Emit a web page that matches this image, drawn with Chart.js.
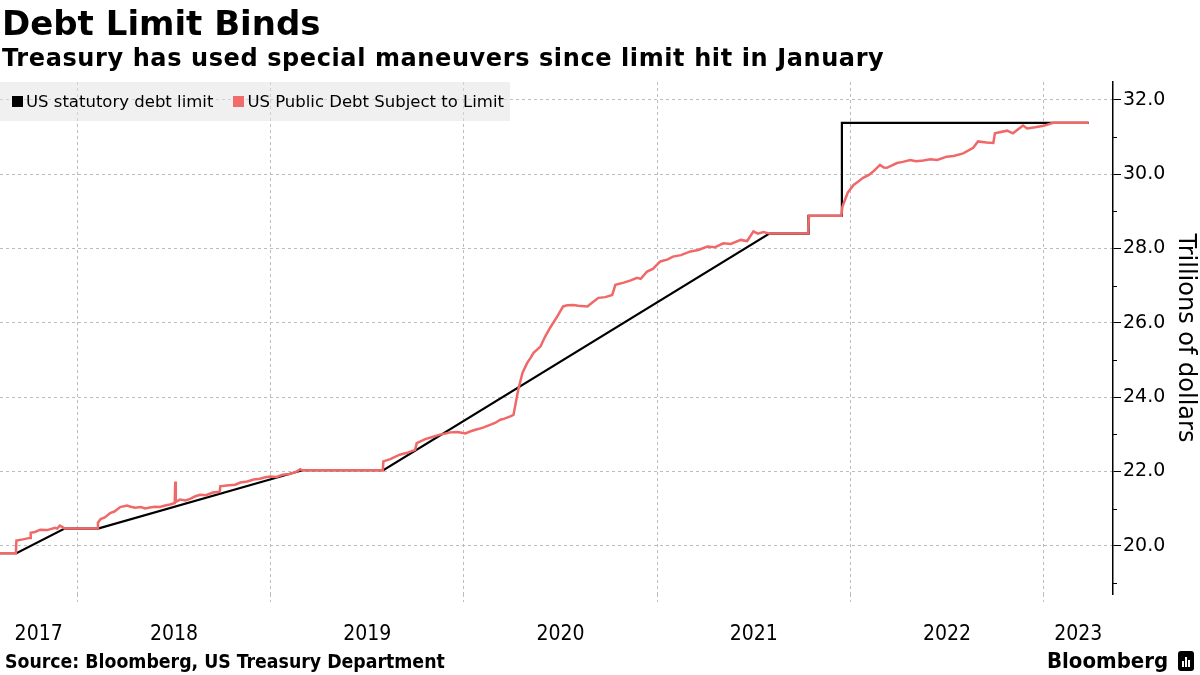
<!DOCTYPE html>
<html>
<head>
<meta charset="utf-8">
<script src="https://cdn.jsdelivr.net/npm/chart.js@4"></script>
<style>
  body { margin: 0; background: #fff; }
  #wrap { position: relative; width: 1200px; height: 675px; overflow: hidden; background: #fff; }
  #chart { position: absolute; left: 0; top: 0; }
  .title { position: absolute; left: 2px; top: 6px; font: bold 34px/34px "DejaVu Sans", sans-serif; color: #000; white-space: nowrap; }
  .subtitle { position: absolute; left: 2px; top: 46px; font: bold 24px/24px "DejaVu Sans", sans-serif; letter-spacing: 0.6px; color: #000; white-space: nowrap; }
  .legend { position: absolute; left: 0; top: 82px; width: 510px; height: 39px; background: rgba(228,228,228,0.55);
            display: flex; align-items: center; font: 16.5px "DejaVu Sans", sans-serif; color: #000; white-space: nowrap; }
  .legend .sw { display: inline-block; width: 11px; height: 11px; margin: 0 3px 0 0; }
  .legend .item { display: flex; align-items: center; margin-left: 12px; margin-right: 8px; }
  .source { position: absolute; left: 5px; top: 651px; font: bold 19.3px/22px "DejaVu Sans Condensed", "DejaVu Sans", sans-serif; color: #000; white-space: nowrap; }
  .logo { position: absolute; left: 1047px; top: 649px; font: bold 22px/24px "DejaVu Sans Condensed", "DejaVu Sans", sans-serif; color: #000; white-space: nowrap; }
  .icon { position: absolute; left: 1178px; top: 651px; width: 16px; height: 20px; background: #000; border-radius: 3px; }
  .icon i { position: absolute; bottom: 4px; width: 2px; background: #fff; }
</style>
</head>
<body>
<div id="wrap">
  <canvas id="chart" width="1200" height="675"></canvas>
  <div class="title">Debt Limit Binds</div>
  <div class="subtitle">Treasury has used special maneuvers since limit hit in January</div>
  <div class="legend">
    <span class="item"><span class="sw" style="background:#000"></span>US statutory debt limit</span>
    <span class="item"><span class="sw" style="background:#f26b6b"></span>US Public Debt Subject to Limit</span>
  </div>
  <div class="source">Source: Bloomberg, US Treasury Department</div>
  <div class="logo">Bloomberg</div>
  <div class="icon"><i style="left:4px;height:6px"></i><i style="left:7px;height:10px"></i><i style="left:10px;height:7px"></i></div>
</div>
<script>
// x range of the chart
var xMinDate = '2017-08-08';
var xMaxDate = '2023-05-12';

var yearLabels = ['2017', '2018', '2019', '2020', '2021', '2022', '2023'];

// US statutory debt limit, trillions
var limitDates = ['2017-08-08', '2017-09-08', '2017-12-08', '2018-02-09', '2019-03-02', '2019-08-02',
                  '2021-08-01', '2021-10-13', '2021-10-14', '2021-12-15', '2021-12-16', '2023-03-27'];
var limitValues = [19.80, 19.80, 20.46, 20.46, 22.03, 22.03,
                   28.40, 28.40, 28.88, 28.88, 31.38, 31.38];

// US public debt subject to limit, trillions
var debtDates = [
  '2017-08-08', '2017-09-07', '2017-09-08', '2017-09-20', '2017-10-04', '2017-10-05', '2017-10-13', '2017-10-23',
  '2017-11-05', '2017-11-20', '2017-11-24', '2017-11-29', '2017-12-04', '2017-12-08', '2018-02-08', '2018-02-09',
  '2018-02-14', '2018-02-22', '2018-03-04', '2018-03-12', '2018-03-23', '2018-04-05', '2018-04-12', '2018-04-20',
  '2018-05-01', '2018-05-09', '2018-05-18', '2018-05-28', '2018-06-06', '2018-06-16', '2018-06-25', '2018-07-04',
  '2018-07-05', '2018-07-06', '2018-07-14', '2018-07-24', '2018-08-02', '2018-08-12', '2018-08-21', '2018-09-01',
  '2018-09-14', '2018-09-27', '2018-09-28', '2018-10-10', '2018-10-26', '2018-11-05', '2018-11-18', '2018-11-30',
  '2018-12-12', '2018-12-22', '2019-01-01', '2019-01-12', '2019-01-24', '2019-02-06', '2019-02-20', '2019-02-26',
  '2019-03-02', '2019-08-01', '2019-08-02', '2019-08-15', '2019-09-02', '2019-09-16', '2019-10-01', '2019-10-04',
  '2019-10-20', '2019-11-01', '2019-11-17', '2019-11-27', '2019-12-06', '2019-12-20', '2020-01-04', '2020-01-14',
  '2020-01-23', '2020-02-05', '2020-02-21', '2020-03-01', '2020-03-10', '2020-03-18', '2020-03-29', '2020-04-04',
  '2020-04-13', '2020-04-21', '2020-04-30', '2020-05-06', '2020-05-12', '2020-05-25', '2020-06-03', '2020-06-13',
  '2020-06-26', '2020-07-07', '2020-07-15', '2020-07-26', '2020-08-05', '2020-08-22', '2020-09-01', '2020-09-12',
  '2020-09-25', '2020-10-08', '2020-10-14', '2020-10-30', '2020-11-12', '2020-11-24', '2020-12-01', '2020-12-13',
  '2020-12-24', '2021-01-07', '2021-01-20', '2021-01-31', '2021-02-15', '2021-03-05', '2021-03-20', '2021-04-06',
  '2021-04-20', '2021-05-06', '2021-05-20', '2021-06-08', '2021-06-20', '2021-07-02', '2021-07-10', '2021-07-21',
  '2021-08-01', '2021-10-13', '2021-10-15', '2021-12-15', '2021-12-17', '2021-12-27', '2022-01-07', '2022-01-16',
  '2022-01-25', '2022-02-05', '2022-02-13', '2022-02-26', '2022-03-05', '2022-03-11', '2022-03-30', '2022-04-10',
  '2022-04-24', '2022-05-05', '2022-05-19', '2022-06-01', '2022-06-14', '2022-07-02', '2022-07-15', '2022-08-02',
  '2022-08-21', '2022-08-30', '2022-09-15', '2022-09-28', '2022-10-01', '2022-10-24', '2022-11-04', '2022-11-23',
  '2022-12-01', '2022-12-16', '2023-01-01', '2023-01-19', '2023-03-27'
];
var debtValues = [
  19.80, 19.80, 20.14, 20.17, 20.21, 20.35, 20.37, 20.43,
  20.42, 20.48, 20.46, 20.54, 20.50, 20.46, 20.46, 20.62,
  20.72, 20.76, 20.88, 20.92, 21.04, 21.08, 21.05, 21.02,
  21.04, 21.00, 21.03, 21.05, 21.04, 21.08, 21.11, 21.15,
  21.73, 21.18, 21.24, 21.22, 21.26, 21.33, 21.37, 21.36,
  21.43, 21.45, 21.60, 21.62, 21.64, 21.70, 21.73, 21.78,
  21.80, 21.84, 21.86, 21.85, 21.91, 21.93, 22.00, 22.06,
  22.03, 22.03, 22.27, 22.33, 22.45, 22.50, 22.58, 22.76,
  22.87, 22.92, 22.99, 23.02, 23.05, 23.06, 23.02, 23.08,
  23.12, 23.17, 23.26, 23.31, 23.39, 23.42, 23.48, 23.52,
  24.20, 24.65, 24.92, 25.05, 25.19, 25.36, 25.63, 25.88,
  26.17, 26.44, 26.47, 26.48, 26.46, 26.44, 26.55, 26.67,
  26.69, 26.75, 27.02, 27.08, 27.14, 27.21, 27.18, 27.38,
  27.45, 27.65, 27.70, 27.78, 27.82, 27.92, 27.96, 28.05,
  28.03, 28.14, 28.12, 28.23, 28.20, 28.46, 28.40, 28.44,
  28.40, 28.40, 28.88, 28.88, 29.13, 29.50, 29.71, 29.80,
  29.90, 29.98, 30.07, 30.25, 30.18, 30.17, 30.30, 30.33,
  30.38, 30.35, 30.37, 30.40, 30.38, 30.47, 30.49, 30.56,
  30.71, 30.88, 30.85, 30.84, 31.10, 31.17, 31.10, 31.31,
  31.23, 31.26, 31.30, 31.38, 31.38
];

function toYear(s) {
  var d = new Date(s + 'T00:00:00Z');
  var y = d.getUTCFullYear();
  var a = Date.UTC(y, 0, 1), b = Date.UTC(y + 1, 0, 1);
  return y + (d.getTime() - a) / (b - a);
}

function points(dates, values) {
  return dates.map(function (d, i) { return { x: toYear(d), y: values[i] }; });
}

var xMin = toYear(xMinDate);
var xMax = toYear(xMaxDate);

// minor ticks on the right axis at odd values
var minorTicks = {
  id: 'minorTicks',
  afterDraw: function (chart) {
    var y = chart.scales.y, ctx = chart.ctx;
    ctx.save();
    ctx.strokeStyle = '#000';
    ctx.lineWidth = 1;
    for (var v = Math.ceil(y.min); v <= y.max; v++) {
      if (v % 2 === 0) continue;
      var py = Math.round(y.getPixelForValue(v)) + 0.5;
      ctx.beginPath();
      ctx.moveTo(y.left, py);
      ctx.lineTo(y.left + 4, py);
      ctx.stroke();
    }
    ctx.restore();
  }
};

var ctx = document.getElementById('chart').getContext('2d');
new Chart(ctx, {
  type: 'line',
  data: {
    datasets: [{
      label: 'US Public Debt Subject to Limit',
      data: points(debtDates, debtValues),
      borderColor: '#f06868',
      borderWidth: 2.5,
      pointRadius: 0,
      tension: 0,
      order: 1
    }, {
      label: 'US statutory debt limit',
      data: points(limitDates, limitValues),
      borderColor: '#000',
      borderWidth: 2.2,
      pointRadius: 0,
      tension: 0,
      order: 2
    }]
  },
  options: {
    responsive: false,
    animation: false,
    layout: { padding: { top: 82, left: 0, right: 0, bottom: 0 } },
    plugins: { legend: { display: false }, tooltip: { enabled: false } },
    scales: {
      x: {
        type: 'linear',
        min: xMin,
        max: xMax,
        border: { display: false, dash: [3, 3] },
        afterBuildTicks: function (scale) {
          var ticks = [];
          for (var yr = Math.ceil(xMin); yr <= Math.floor(xMax); yr++) {
            ticks.push({ value: yr, isLine: true });
          }
          yearLabels.forEach(function (t) {
            var yr = parseInt(t, 10);
            var a = Math.max(yr, xMin), b = Math.min(yr + 1, xMax);
            ticks.push({ value: (a + b) / 2, text: t });
          });
          ticks.sort(function (p, q) { return p.value - q.value; });
          scale.ticks = ticks;
        },
        afterFit: function (scale) {
          scale.height = 81;
          scale.paddingLeft = 0;
          scale.paddingRight = 0;
        },
        grid: {
          color: function (c) { return c.tick && c.tick.isLine ? '#bdbdbd' : 'rgba(0,0,0,0)'; },
          tickColor: function (c) { return c.tick && c.tick.isLine ? '#bdbdbd' : 'rgba(0,0,0,0)'; },
          tickBorderDash: [3, 3],
          lineWidth: 1,
          tickLength: 8
        },
        ticks: {
          autoSkip: false,
          maxRotation: 0,
          padding: 20,
          color: '#000',
          font: { family: '"DejaVu Sans Condensed", sans-serif', size: 21 },
          callback: function (v, i, ticks) { return ticks[i].text || ''; }
        }
      },
      y: {
        position: 'right',
        min: 18.7,
        max: 32.48,
        afterFit: function (scale) { scale.width = 87; },
        border: { display: true, color: '#000', width: 1.5, dash: [3, 3] },
        grid: {
          color: '#bdbdbd',
          tickColor: '#000',
          lineWidth: 1,
          tickLength: 8
        },
        ticks: {
          stepSize: 2,
          includeBounds: false,
          padding: 2,
          color: '#000',
          font: { family: '"DejaVu Sans", sans-serif', size: 19 },
          callback: function (v) { return v.toFixed(1); }
        },
        title: {
          display: true,
          text: 'Trillions of dollars',
          color: '#000',
          padding: { top: 0, bottom: 0 },
          font: { family: '"DejaVu Sans", sans-serif', size: 24 }
        }
      }
    }
  },
  plugins: [minorTicks]
});
</script>
</body>
</html>
